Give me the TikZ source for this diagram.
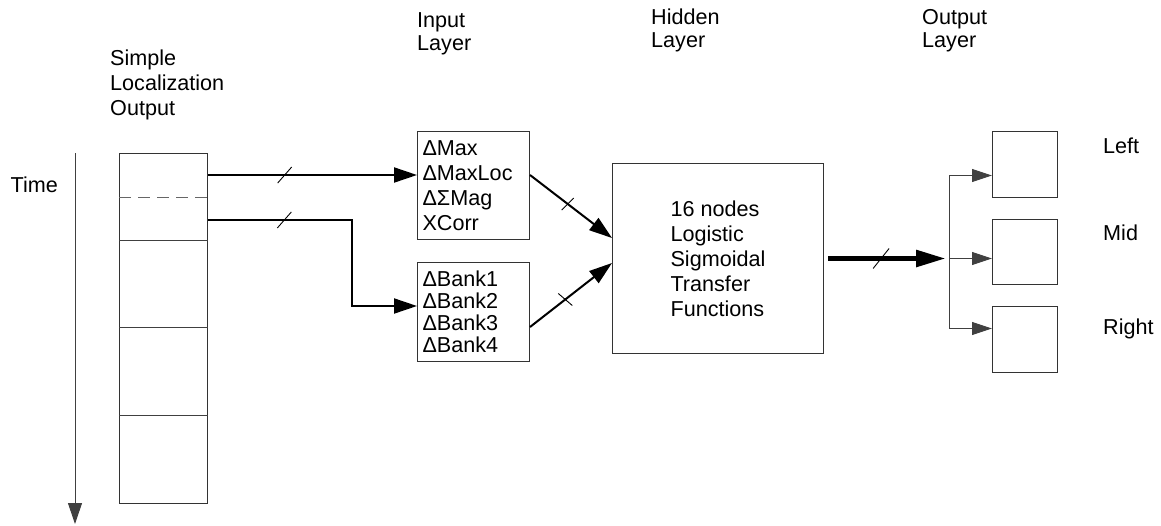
\documentclass[tikz,border=0pt]{standalone}
\usepackage{fontspec}
\setmainfont{Liberation Sans}
\usetikzlibrary{arrows.meta,calc}

\begin{document}
\begin{tikzpicture}[x=1pt,y=-1pt,
  every node/.style={inner sep=0pt, font=\fontsize{21.6}{25}\selectfont},
  title/.style={align=left, anchor=base west, font=\fontsize{21.6}{22.5}\selectfont},
  box/.style={draw=black!80, line width=1pt, anchor=north west},
  listbox/.style={box, align=left, text width=102pt, inner xsep=5pt},
  thinline/.style={draw=black!75, line width=1pt},
  thinarrow/.style={thinline, -{Triangle[length=20pt,width=13pt]}},
  arrowline/.style={line width=2pt, -{Triangle[length=23pt,width=15pt]}},
  busline/.style={line width=5.5pt, -{Triangle[length=30pt,width=16pt]}},
  tick/.style={line width=0.9pt}
]
\useasboundingbox (0,0) rectangle (1161,525);

% column of localization frames
\node[box, minimum width=88pt, minimum height=350pt] (col) at (119,153) {};
\draw[draw=black!60, line width=1.2pt, dash pattern=on 12pt off 7pt]
  ($(col.north west)!0.126!(col.south west)$) -- ($(col.north east)!0.126!(col.south east)$);
\foreach \f in {0.249,0.498,0.749}
  \draw[thinline] ($(col.north west)!\f!(col.south west)$) -- ($(col.north east)!\f!(col.south east)$);

% time axis
\coordinate (t0) at (75,153);
\coordinate (t1) at (75,524);
\draw[thinarrow, -{Triangle[length=21pt,width=14pt]}] (t0) -- (t1);
\node[anchor=base east] (time) at (58,192) {Time};

% column titles (base anchor sits on the last line)
\node[title, font=\fontsize{21.6}{25}\selectfont] (loc) at (110,115.5) {Simple\\Localization\\Output};
\node[title] (inl) at (417,50) {Input\\Layer};
\node[title] (hidl) at (651,47) {Hidden\\Layer};
\node[title] (outl) at (922,47) {Output\\Layer};

% input layer
\node[listbox, minimum height=108pt] (in1) at (417,131) {ΔMax\\ΔMaxLoc\\ΔΣMag\\XCorr};
\node[listbox, minimum height=99pt, font=\fontsize{21.6}{22}\selectfont] (in2) at (417,262) {ΔBank1\\ΔBank2\\ΔBank3\\ΔBank4};

% hidden layer
\node[box, minimum width=211pt, minimum height=190pt, align=left] (hid) at (612,163)
  {16 nodes\\Logistic\\Sigmoidal\\Transfer\\Functions};

% output layer
\node[box, minimum width=65pt, minimum height=66pt] (out1) at (992,131) {};
\node[box, minimum width=65pt, minimum height=65pt] (out2) at (992,219) {};
\node[box, minimum width=65pt, minimum height=66pt] (out3) at (992,306) {};
\node[anchor=base west] (lleft) at (1103,153) {Left};
\node[anchor=base west] (lmid) at (1103,240) {Mid};
\node[anchor=base west] (lright) at (1103,334) {Right};

% column to input layer
\path (col.north east) ++(0,22) coordinate (a1);
\draw[arrowline] (a1) -- coordinate[pos=0.367] (k1) (a1 -| in1.west);
\draw[tick] (k1) ++(-7,8) -- ++(14,-16);

\path (col.north east) ++(0,67) coordinate (a2);
\coordinate (a2end) at ($(in2.north west)+(0,44)$);
\draw[arrowline] (a2) -- coordinate[pos=0.53] (k2) (a2 -| 352,0) |- (a2end);
\draw[tick] (k2) ++(-7,8) -- ++(14,-16);

% input layer to hidden layer
\draw[arrowline] ($(in1.north east)+(0,44)$) -- coordinate[pos=0.46] (k3) ($(hid.north west)+(0,75)$);
\draw[tick] (k3) ++(-6,6) -- ++(12,-12);
\draw[arrowline] ($(in2.north east)+(0,65)$) -- coordinate[pos=0.43] (k4) ($(hid.north west)+(0,100)$);
\draw[tick] (k4) ++(-7,-6) -- ++(14,12);

% hidden layer to output layer
\coordinate (br) at ($(hid.east)+(125,0)$);
\draw[busline] ($(hid.east)+(4,0)$) -- coordinate[pos=0.45] (k5) ($(br)+(-3,0)$);
\draw[tick] (k5) ++(-8,10) -- ++(16,-20);
\coordinate (b1) at ($(br)+(0,-83)$);
\coordinate (b3) at ($(br)+(0,70)$);
\draw[thinline] (b1) -- (b3);
\draw[thinarrow] (b1) -- (b1 -| out1.west);
\draw[thinarrow] (br) -- (br -| out2.west);
\draw[thinarrow] (b3) -- (b3 -| out3.west);
\end{tikzpicture}
\end{document}
